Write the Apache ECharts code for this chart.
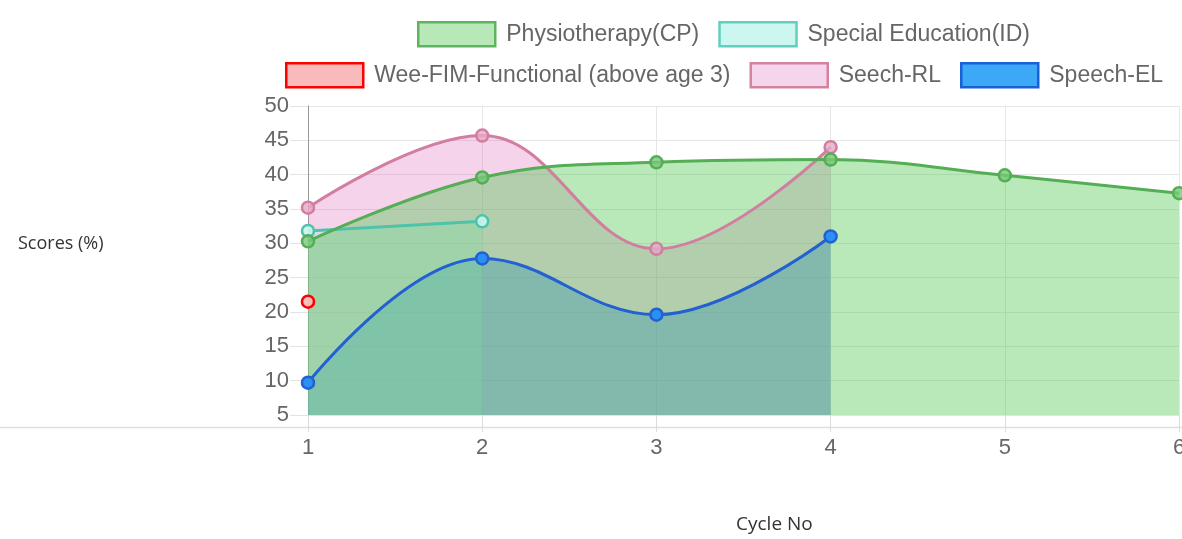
<!DOCTYPE html>
<html>
<head>
<meta charset="utf-8">
<script src="https://cdn.jsdelivr.net/npm/echarts@6/dist/echarts.min.js"></script>
<style>
html,body{margin:0;padding:0;background:#fff;overflow:hidden;}
#chart{width:1182px;height:539px;}
</style>
</head>
<body>
<div id="chart"></div>
<script>
const categories = ['1', '2', '3', '4', '5', '6'];
const physiotherapy = [30.3, 39.6, 41.8, 42.2, 39.9, 37.3];
const specialEducation = [31.8, 33.2, null, null, null, null];
const weeFim = [21.5, null, null, null, null, null];
const seechRL = [35.2, 45.7, 29.2, 44.0, null, null];
const speechEL = [9.7, 27.8, 19.6, 31.0, null, null];
const yTicks = { min: 5, max: 50, interval: 5 };

const names = ['Physiotherapy(CP)', 'Special Education(ID)', 'Wee-FIM-Functional (above age 3)', 'Seech-RL', 'Speech-EL'];

const chart = echarts.init(document.getElementById('chart'));
const font = 'Liberation Sans, Arial, sans-serif';

function mkSeries(name, data, line, pointFill, area, smooth) {
  return {
    name: name, type: 'line', data: data, smooth: smooth,
    symbol: 'circle', symbolSize: 12, showSymbol: true,
    lineStyle: { color: line, width: 3 },
    itemStyle: { color: pointFill, borderColor: line, borderWidth: 2.5 },
    areaStyle: area ? { color: area, origin: 'start', opacity: 1 } : undefined,
    emphasis: { disabled: true }
  };
}

const legendText = { color: '#666', fontSize: 23, fontFamily: font, padding: [0, 0, 0, 6] };

chart.setOption({
  animation: false,
  legend: [
    {
      left: 417, top: 21, padding: 0, itemWidth: 77, itemHeight: 24, itemGap: 19, icon: 'rect',
      textStyle: legendText, selectedMode: false,
      data: [
        { name: names[0], itemStyle: { color: '#b8e8b8', borderColor: '#5fb55f', borderWidth: 2.5 } },
        { name: names[1], itemStyle: { color: '#ccf7f0', borderColor: '#5fcfbf', borderWidth: 2.5 } }
      ]
    },
    {
      left: 285, top: 62, padding: 0, itemWidth: 77, itemHeight: 24, itemGap: 19, icon: 'rect',
      textStyle: legendText, selectedMode: false,
      data: [
        { name: names[2], itemStyle: { color: '#f8baba', borderColor: '#ff0000', borderWidth: 2.5 } },
        { name: names[3], itemStyle: { color: '#f5d5ec', borderColor: '#d5829f', borderWidth: 2.5 } },
        { name: names[4], itemStyle: { color: '#3ca9f7', borderColor: '#1b5fd8', borderWidth: 2.5 } }
      ]
    }
  ],
  grid: { left: 308, right: 3, top: 106, bottom: 124, containLabel: false, outerBoundsMode: 'none' },
  xAxis: {
    type: 'category', data: categories, boundaryGap: false,
    axisLine: { show: true, lineStyle: { color: '#e3e3e3', width: 1 } },
    axisTick: { show: true, length: 17, lineStyle: { color: '#dcdcdc' } },
    axisLabel: { color: '#666', fontSize: 22, fontFamily: font, margin: 22 },
    splitLine: { show: true, lineStyle: { color: '#e6e6e6' } }
  },
  yAxis: {
    type: 'value', min: yTicks.min, max: yTicks.max, interval: yTicks.interval,
    axisLine: { show: true, lineStyle: { color: '#999', width: 1 } },
    axisTick: { show: true, length: 18, lineStyle: { color: '#e3e3e3' } },
    axisLabel: { color: '#666', fontSize: 22, fontFamily: font, margin: 19 },
    splitLine: { show: true, lineStyle: { color: '#e6e6e6' } }
  },
  graphic: [
    { type: 'line', shape: { x1: 0, y1: 427.5, x2: 1182, y2: 427.5 }, style: { stroke: '#dedede', lineWidth: 1.5 }, z: 0 },
    { type: 'text', left: 18, top: 235, style: { text: 'Scores (%)', fill: '#333', font: '18px "Open Sans", sans-serif' } },
    { type: 'text', left: 736, top: 515, style: { text: 'Cycle No', fill: '#333', font: '19px "Open Sans", sans-serif' } }
  ],
  series: [
    mkSeries(names[4], speechEL, '#2360d2', '#2a90f5', 'rgba(30,150,245,0.5)', 0.4),
    mkSeries(names[3], seechRL, '#d17ea0', 'rgba(230,170,200,0.8)', 'rgba(220,110,190,0.3)', 0.4),
    mkSeries(names[2], weeFim, '#ff0000', 'rgba(248,186,186,0.9)', null, 0.4),
    mkSeries(names[1], specialEducation, '#4ec3aa', 'rgba(200,245,238,0.9)', 'rgba(150,235,220,0.3)', 0.4),
    mkSeries(names[0], physiotherapy, '#55ad55', 'rgba(120,200,120,0.8)', 'rgba(80,200,80,0.4)', 0.4)
  ]
});
</script>
</body>
</html>
